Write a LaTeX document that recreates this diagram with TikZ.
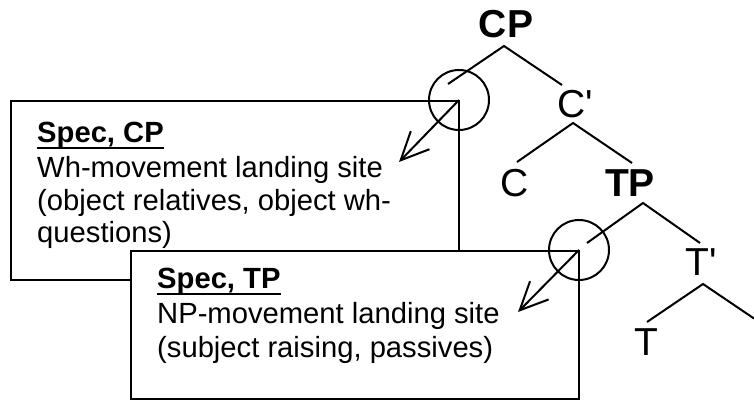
\documentclass[tikz,border=0pt]{standalone}
\usepackage{fontspec}
\setmainfont{Liberation Sans}
\newfontfamily\treefont{Liberation Sans}
\usetikzlibrary{arrows.meta}
\begin{document}
\begin{tikzpicture}[x=1pt,y=-1pt,
  lbl/.style={inner sep=0pt, font=\treefont\fontsize{39}{39}\selectfont},
  blbl/.style={lbl, font=\treefont\fontsize{39}{39}\selectfont\bfseries},
  txt/.style={inner sep=0pt, anchor=base west, font=\fontsize{29.2}{33}\selectfont},
  ttl/.style={txt, font=\fontsize{29.2}{33}\selectfont\bfseries},
  branch/.style={line width=2pt},
  boxline/.style={line width=2.4pt},
  ring/.style={circle, draw, line width=2pt, minimum size=60pt, inner sep=0pt},
  movearrow/.style={line width=2pt, -{Straight Barb[length=28pt, width=26pt, line width=2pt]}}
]
\useasboundingbox (0,0) rectangle (754,403);

% tree labels
\node[blbl] (CP) at (506,24) {CP};
\node[lbl] (Cbar) at (575,104) {C'};
\node[lbl] (C) at (515,183) {C};
\node[blbl] (TP) at (630,183) {TP};
\node[lbl] (Tbar) at (701,262) {T'};
\node[lbl] (T) at (646,342) {T};

% branch points
\coordinate (cpA) at (504,46);
\coordinate (cpL) at (448,84);
\coordinate (cpR) at (562,85);
\coordinate (cbA) at (573,123);
\coordinate (cbL) at (517,162);
\coordinate (cbR) at (632,163);
\coordinate (tpA) at (643,203);
\coordinate (tpL) at (587,243);
\coordinate (tpR) at (700,243);
\coordinate (tbA) at (703,284);
\coordinate (tbL) at (647,322);
\coordinate (tbR) at (754,318.5);

\draw[branch] (cpL) -- (cpA) -- (cpR);
\draw[branch] (cbL) -- (cbA) -- (cbR);
\draw[branch] (tpL) -- (tpA) -- (tpR);
\draw[branch] (tbL) -- (tbA) -- (tbR);

% box 1
\draw[boxline, fill=white] (11,101) rectangle (459,280);
\node[ttl] (t1) at (37,143) {Spec, CP};
\draw[line width=2pt] ([yshift=-5.5pt]t1.base west) -- ([yshift=-5.5pt]t1.base east);
\node[txt] (l1a) at (37,178) {Wh-movement landing site};
\node[txt] (l1b) at (37,210.5) {(object relatives, object wh-};
\node[txt] (l1c) at (37,243) {questions)};

% box 2
\draw[boxline, fill=white] (131,251) rectangle (579,399);
\node[ttl] (t2) at (157,288) {Spec, TP};
\draw[line width=2pt] ([yshift=-5.5pt]t2.base west) -- ([yshift=-5.5pt]t2.base east);
\node[txt] (l2a) at (157,323) {NP-movement landing site};
\node[txt] (l2b) at (157,357) {(subject raising, passives)};

% circles at specifier positions
\node[ring] (specCP) at (459,100) {};
\node[ring] (specTP) at (579,250) {};

% movement arrows
\coordinate (a1tip) at (399,162);
\draw[movearrow] (specCP.center) -- (a1tip);
\coordinate (a2tip) at (518,312);
\draw[movearrow] (specTP.center) -- (a2tip);
\end{tikzpicture}
\end{document}
